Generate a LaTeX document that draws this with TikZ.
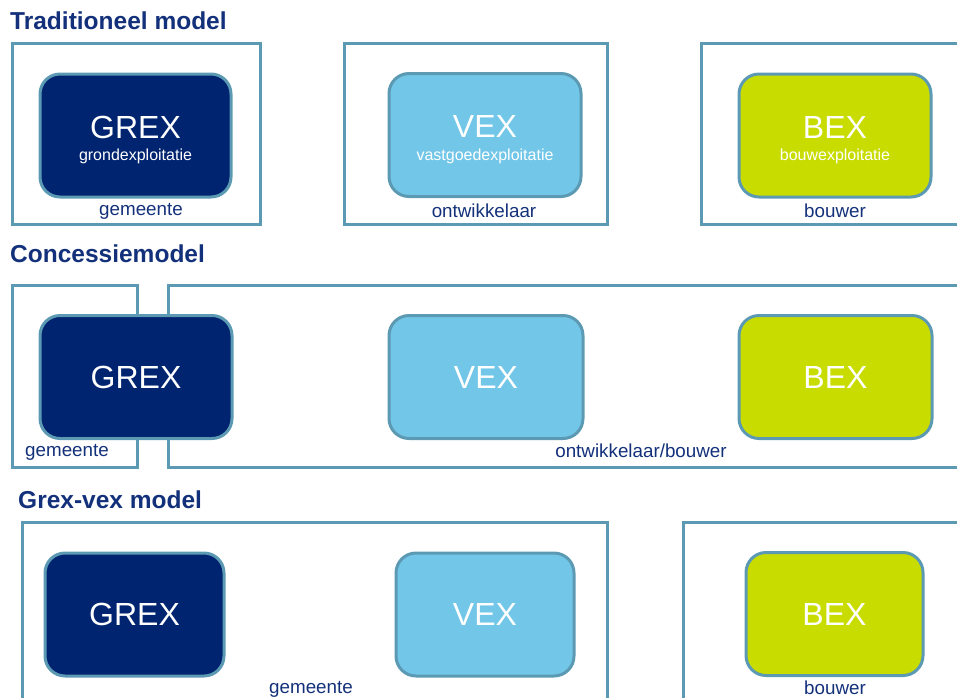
\documentclass[tikz,border=0pt]{standalone}
\usepackage{fontspec}
\setmainfont{Liberation Sans}
\usepackage{tikz}
\usetikzlibrary{positioning}

\definecolor{navy}{HTML}{002470}
\definecolor{titleblue}{HTML}{13307A}
\definecolor{skyblue}{HTML}{72C6E7}
\definecolor{lime}{HTML}{C8DC00}
\definecolor{rim}{HTML}{5C9AB4}

\begin{document}
\begin{tikzpicture}[x=1pt, y=-1pt,
        frame/.style={draw=rim, line width=3pt},
        exbox/.style={shape=rectangle, rounded corners=20pt, draw=rim, line width=3pt,
            minimum height=123pt, text=white, inner sep=0pt,
            font=\fontsize{32}{34}\selectfont},
        extag/.style={text=white, inner sep=0pt, font=\fontsize{32}{34}\selectfont},
        exsub/.style={text=white, inner sep=0pt, font=\fontsize{16}{18}\selectfont},
        party/.style={text=titleblue, inner sep=0pt, font=\fontsize{18.8}{20}\selectfont},
        heading/.style={text=titleblue, anchor=west, inner sep=0pt, font=\fontsize{24.5}{27}\selectfont\bfseries}]
        \useasboundingbox (0,0) rectangle (957,697);
        \clip (0,0) rectangle (957,697);

        % traditioneel model
        \node[heading] (tTitle) at (10,21) {Traditioneel model};
        \draw[frame] (12,43) rectangle (260,224);
        \draw[frame] (344,43) rectangle (607,224);
        \draw[frame] (701,43) rectangle (990,224);

        \node[exbox, fill=navy, minimum width=191pt] (tGrex) at (135.5,135.5) {};
        \node[exbox, fill=skyblue, minimum width=192pt] (tVex) at (485,135) {};
        \node[exbox, fill=lime, minimum width=192pt] (tBex) at (835,135.5) {};

        \node[extag] (tGrexTag) at ([yshift=8.5pt]tGrex.center) {GREX};
        \node[exsub] (tGrexSub) at ([yshift=-21pt]tGrex.center) {grondexploitatie};
        \node[extag] (tVexTag) at ([yshift=8.5pt]tVex.center) {VEX};
        \node[exsub] (tVexSub) at ([yshift=-21pt]tVex.center) {vastgoedexploitatie};
        \node[extag] (tBexTag) at ([yshift=8.5pt]tBex.center) {BEX};
        \node[exsub] (tBexSub) at ([yshift=-21pt]tBex.center) {bouwexploitatie};

        \node[party] (tGem) at (141,211) {gemeente};
        \node[party] (tOnt) at (484,211) {ontwikkelaar};
        \node[party] (tBouw) at (835,211) {bouwer};

        % concessiemodel
        \node[heading] (cTitle) at (10,254) {Concessiemodel};
        \draw[frame] (12,285) rectangle (137,467);
        \draw[frame] (168,285) rectangle (990,467);

        \node[exbox, fill=navy, minimum width=192pt] (cGrex) at (136,377) {GREX};
        \node[exbox, fill=skyblue, minimum width=194pt] (cVex) at (486,377) {VEX};
        \node[exbox, fill=lime, minimum width=193pt] (cBex) at (835.5,377) {BEX};

        \node[party, anchor=west] (cGem) at (25,452) {gemeente};
        \node[party] (cOnt) at (641,451) {ontwikkelaar/bouwer};

        % grex-vex model
        \node[heading] (gTitle) at (18,500) {Grex-vex model};
        \draw[frame] (22,522) rectangle (607,720);
        \draw[frame] (683,522) rectangle (990,720);

        \node[exbox, fill=navy, minimum width=179pt] (gGrex) at (134.5,614.5) {GREX};
        \node[exbox, fill=skyblue, minimum width=178pt] (gVex) at (485,614.5) {VEX};
        \node[exbox, fill=lime, minimum width=177pt] (gBex) at (834.5,614) {BEX};

        \node[party] (gGem) at (311,689) {gemeente};
        \node[party] (gBouw) at (835,688) {bouwer};
\end{tikzpicture}
\end{document}
